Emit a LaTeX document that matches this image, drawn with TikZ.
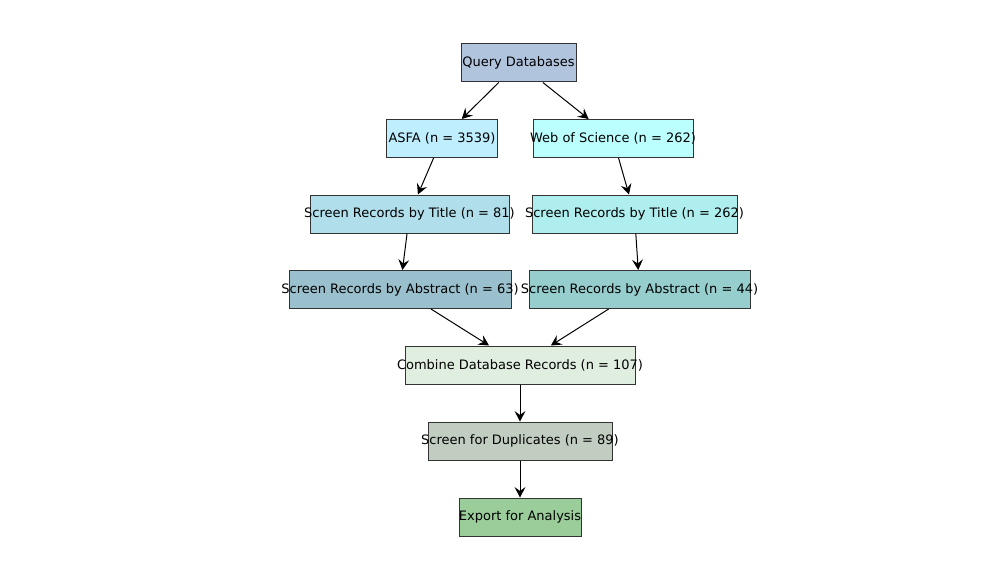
\documentclass[tikz,border=0pt]{standalone}
\usepackage{fontspec}
\setmainfont{DejaVu Sans}
\usepackage{tikz}
\usetikzlibrary{arrows.meta}
\usepackage{xcolor}
\definecolor{querycol}{HTML}{B0C4DE}
\definecolor{asfacol}{HTML}{BFEFFF}
\definecolor{woscol}{HTML}{BBFFFF}
\definecolor{titleacol}{HTML}{B0DFEB}
\definecolor{titlebcol}{HTML}{AEEEEE}
\definecolor{absacol}{HTML}{9AC0CD}
\definecolor{absbcol}{HTML}{96CDCD}
\definecolor{combinecol}{HTML}{E0EEE0}
\definecolor{dupcol}{HTML}{C1CDC1}
\definecolor{exportcol}{HTML}{9BCD9B}
\definecolor{edgegray}{gray}{0.2}
\tikzset{
    stage/.style 2 args={rectangle, draw=edgegray, line width=0.72pt, inner sep=0pt,
        minimum width=0.72pt*#1, minimum height=0.72pt*#2, font=\fontsize{9.35}{11}\selectfont},
    flow/.style={draw=black, line width=0.72pt, -{Stealth[length=7.5pt, width=7.8pt, inset=2.8pt]}}
}
\newcommand{\stagetext}[1]{\raisebox{-1.3pt}{\makebox[0pt][c]{#1}}}

\begin{document}
\begin{tikzpicture}[x=0.72pt, y=-0.72pt]
    \useasboundingbox (0,0) rectangle (1000,580);
    \node[stage={115}{38}, fill=querycol] (query) at (518.5,63) {\stagetext{Query Databases}};
    \node[stage={111}{38}, fill=asfacol] (asfa) at (442,138.5) {\stagetext{ASFA (n = 3539)}};
    \node[stage={160}{38}, fill=woscol] (wos) at (613,138.5) {\stagetext{Web of Science (n = 262)}};
    \node[stage={199}{38}, fill=titleacol] (title_a) at (409.5,214) {\stagetext{Screen Records by Title (n = 81)}};
    \node[stage={205}{38}, fill=titlebcol] (title_b) at (634.5,214) {\stagetext{Screen Records by Title (n = 262)}};
    \node[stage={222}{38}, fill=absacol] (abs_a) at (400,289.5) {\stagetext{Screen Records by Abstract (n = 63)}};
    \node[stage={221}{38}, fill=absbcol] (abs_b) at (639.5,289.5) {\stagetext{Screen Records by Abstract (n = 44)}};
    \node[stage={230}{38}, fill=combinecol] (combine) at (520,365) {\stagetext{Combine Database Records (n = 107)}};
    \node[stage={184}{38}, fill=dupcol] (dup) at (520,441) {\stagetext{Screen for Duplicates (n = 89)}};
    \node[stage={122}{38}, fill=exportcol] (export) at (520,517) {\stagetext{Export for Analysis}};

    \draw[flow] (query) -- (asfa);
    \draw[flow] (query) -- (wos);
    \draw[flow] (asfa) -- (title_a);
    \draw[flow] (wos) -- (title_b);
    \draw[flow] (title_a) -- (abs_a);
    \draw[flow] (title_b) -- (abs_b);
    \draw[flow] (abs_a) -- (combine);
    \draw[flow] (abs_b) -- (combine);
    \draw[flow] (combine) -- (dup);
    \draw[flow] (dup) -- (export);
\end{tikzpicture}
\end{document}
